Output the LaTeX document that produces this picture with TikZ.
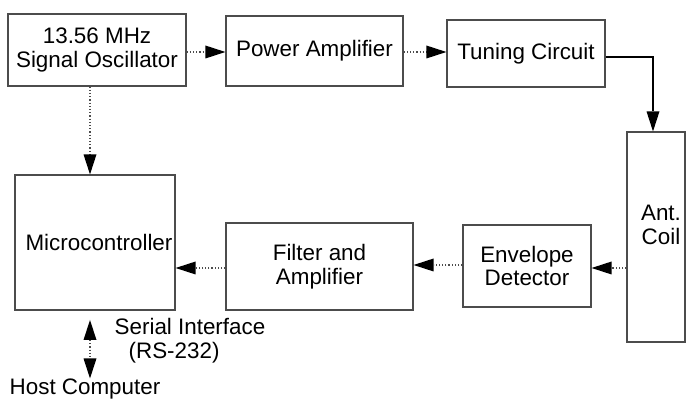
\documentclass[tikz,border=0pt]{standalone}
\usepackage{fontspec}
\setmainfont{Liberation Sans}
\usetikzlibrary{arrows.meta,calc}
\tikzset{tip/.tip={Triangle[length=10pt,width=6.5pt,color=black,fill=black,line width=0pt]}}
\begin{document}
\begin{tikzpicture}[x=0.5pt,y=-0.5pt,
  box/.style={draw=black!70,line width=0.6pt,inner sep=0pt,align=center,
    font=\fontsize{11.2pt}{11.8pt}\selectfont},
  txt/.style={inner sep=0pt,align=left,font=\fontsize{11.2pt}{11.8pt}\selectfont},
  conn/.style={draw=black!70,densely dotted,line width=0.6pt,-tip},
  bold/.style={draw=black,line width=1pt,-tip}]
\useasboundingbox (0,0) rectangle (687,400);
\node[box,minimum width=89pt,minimum height=36pt] (osc) at (97,50) {13.56 MHz\\Signal Oscillator};
\node[box,minimum width=88.5pt,minimum height=35pt] (pa) at (314.5,51) {Power Amplifier};
\node[box,minimum width=79pt,minimum height=33.5pt] (tun) at (526,53.5) {Tuning Circuit};
\node[box,minimum width=29pt,minimum height=105pt] (coil) at (656,237) {};
\node[txt,align=center] (coiltxt) at (661,225) {Ant.\\Coil};
\node[box,minimum width=64pt,minimum height=41pt] (env) at (527,266) {Envelope\\Detector};
\node[box,minimum width=93.5pt,minimum height=43.5pt] (fil) at (319.5,266.5) {Filter and\\Amplifier};
\node[box,minimum width=80pt,minimum height=67.5pt] (mcu) at (95,242.5) {\hspace*{4pt}Microcontroller};
\node[txt] (host) at (85,389) {Host Computer};
\node[txt] (serial) at (190,341) {Serial Interface\\\hspace*{7pt}(RS-232)};
\coordinate (serialtop) at (90,320);
\coordinate (corner) at (653,57);
\draw[conn] (osc.east |- 0,52) -- (pa.west |- 0,52);
\draw[conn] (pa.east |- 0,52) -- (tun.west |- 0,52);
\draw[bold] (tun.east |- corner) -- (corner) -- (corner |- coil.north);
\draw[conn] (coil.west |- 0,268) -- (env.east |- 0,268);
\draw[conn] (env.west |- 0,265) -- (fil.east |- 0,265);
\draw[conn] (fil.west |- 0,268) -- (mcu.east |- 0,268);
\draw[conn] (osc.south -| 90,0) -- (mcu.north -| 90,0);
\draw[conn,tip-tip] (serialtop) -- (host.north -| serialtop);
\end{tikzpicture}
\end{document}
